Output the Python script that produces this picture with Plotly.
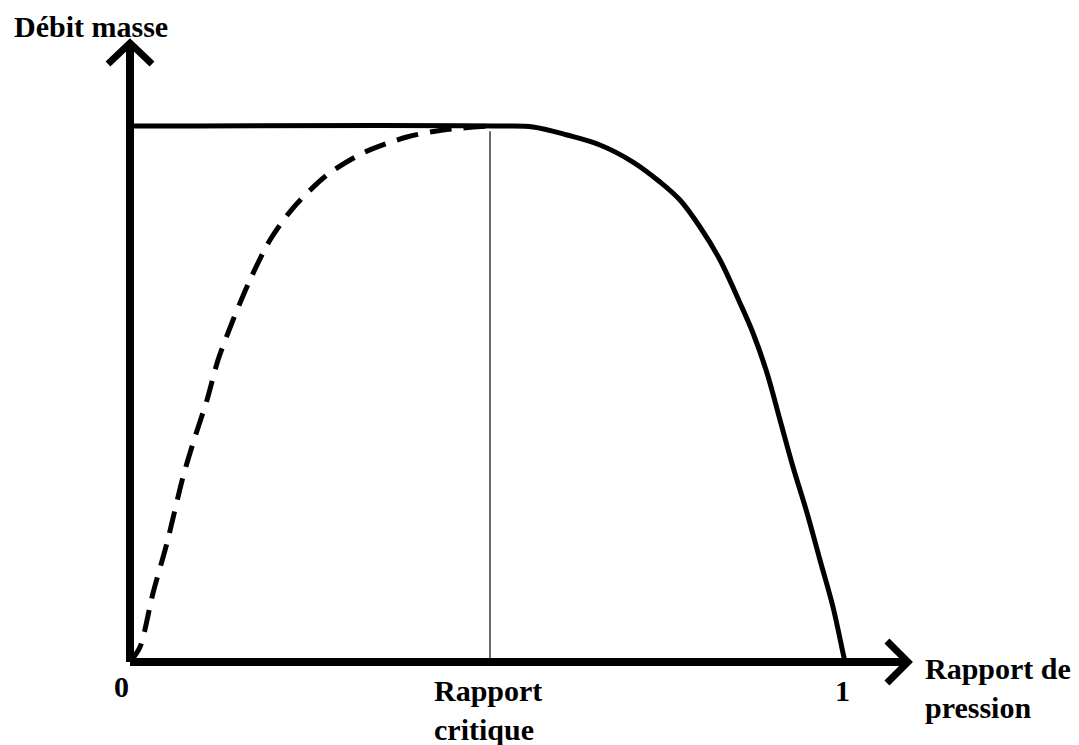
import plotly.graph_objects as go

# --- data ---
rapport_critique = 0.5035
solid_x = [0.0, 0.5175, 0.5636, 0.6112, 0.6573, 0.7035, 0.7413, 0.7692, 0.7972, 0.8252,
           0.8531, 0.8713, 0.8909, 0.9091, 0.9273, 0.9469, 0.965, 0.9832, 0.9972, 1.0]
solid_y = [1.0, 1.0, 0.9981, 0.9832, 0.9646, 0.9328, 0.8955, 0.8619, 0.8116, 0.75,
           0.6698, 0.6138, 0.5392, 0.4515, 0.3638, 0.278, 0.1903, 0.1026, 0.0168, 0.0]
dashed_x = [0.0, 0.014, 0.0322, 0.0517, 0.0741, 0.0909, 0.1077, 0.1231, 0.1441, 0.1678,
            0.1958, 0.228, 0.2755, 0.3259, 0.3874, 0.4378, 0.5035]
dashed_y = [0.0, 0.028, 0.1287, 0.222, 0.3451, 0.4198, 0.4888, 0.5634, 0.638, 0.7127,
            0.7873, 0.847, 0.9086, 0.9496, 0.9795, 0.9925, 1.0]
tick_labels = ["0", "1"]
tick_vals = [0.0, 1.0]
y_title = "Débit masse"
x_title = "Rapport de<br>pression"
crit_label = "Rapport<br>critique"

FONT = "Liberation Serif, Times New Roman, serif"
FS = 30

fig = go.Figure()

# thin vertical line at critical ratio
fig.add_trace(go.Scatter(x=[rapport_critique, rapport_critique], y=[0.99, 0.0], mode="lines",
                         line=dict(color="#3a3a3a", width=1.5), hoverinfo="skip"))
# dashed curve
fig.add_trace(go.Scatter(x=dashed_x, y=dashed_y, mode="lines",
                         line=dict(color="black", width=5, dash="22px,12px", shape="spline", smoothing=0.8),
                         hoverinfo="skip"))
# solid curve
fig.add_trace(go.Scatter(x=solid_x, y=solid_y, mode="lines",
                         line=dict(color="black", width=5, shape="spline", smoothing=1.0),
                         hoverinfo="skip"))

# axes with arrows
fig.add_trace(go.Scatter(x=[0, 0], y=[0, 1.15], mode="lines",
                         line=dict(color="black", width=8), hoverinfo="skip"))
fig.add_trace(go.Scatter(x=[0, 1.085], y=[0, 0], mode="lines",
                         line=dict(color="black", width=8), hoverinfo="skip"))
fig.add_trace(go.Scatter(x=[-0.0308, 0, 0.0308], y=[1.1157, 1.1549, 1.1157], mode="lines",
                         line=dict(color="black", width=7), hoverinfo="skip"))
fig.add_trace(go.Scatter(x=[1.0587, 1.0881, 1.0587], y=[0.0392, 0, -0.0392], mode="lines",
                         line=dict(color="black", width=7), hoverinfo="skip"))

fnt = dict(family=FONT, size=FS, color="black")
ann = [
    dict(x=-0.165, y=1.185, text="<b>" + y_title + "</b>", xanchor="left", yanchor="middle"),
    dict(x=1.109, y=-0.0476, text="<b>" + x_title.replace("<br>", "</b><br><b>") + "</b>",
         xanchor="left", yanchor="middle", align="left"),
    dict(x=rapport_critique - 0.003, y=-0.089, text="<b>" + crit_label.replace("<br>", "</b><br><b>") + "</b>",
         xanchor="center", yanchor="middle", align="left"),
    dict(x=tick_vals[0] - 0.0112, y=-0.0448, text="<b>" + tick_labels[0] + "</b>",
         xanchor="center", yanchor="middle"),
    dict(x=tick_vals[1] - 0.0042, y=-0.054, text="<b>" + tick_labels[1] + "</b>",
         xanchor="center", yanchor="middle"),
]
for a in ann:
    a.update(xref="x", yref="y", showarrow=False, font=fnt)

# page body has an 8px margin: figure pixel = window pixel - 8
fig.update_layout(
    width=1071, height=737,
    margin=dict(l=0, r=0, t=0, b=0),
    paper_bgcolor="white", plot_bgcolor="white",
    showlegend=False,
    annotations=ann,
    xaxis=dict(range=[-0.17063, -0.17063 + 1071 / 715], visible=False, fixedrange=True),
    yaxis=dict(range=[654 / 536 - 737 / 536, 654 / 536], visible=False, fixedrange=True),
)

fig.write_html("out.html", config={"displayModeBar": False})
